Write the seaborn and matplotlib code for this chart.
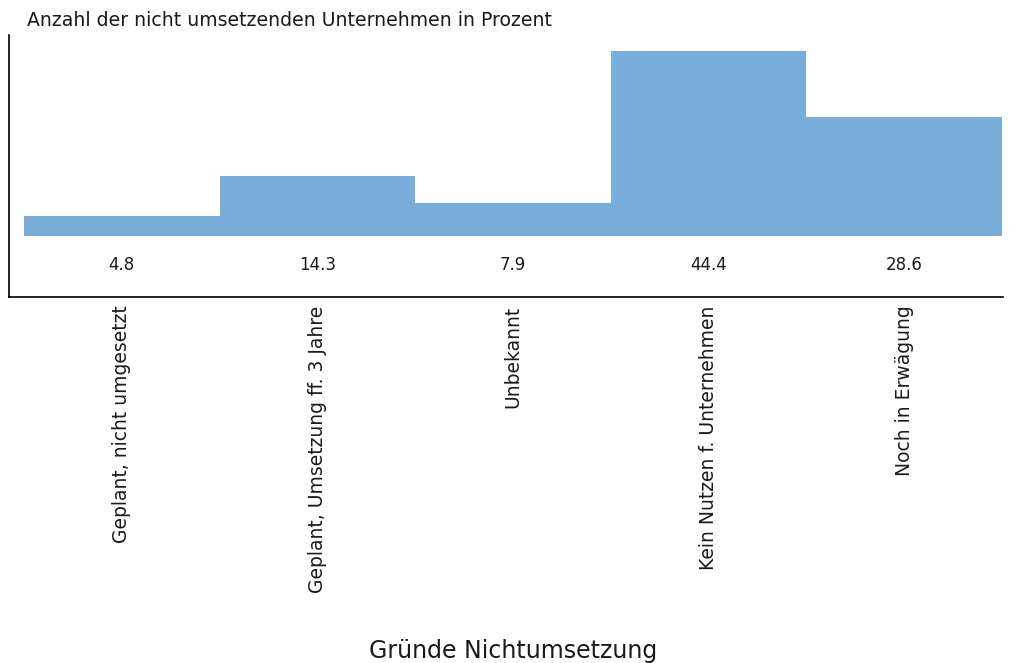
import matplotlib
matplotlib.use("Agg")
import matplotlib.pyplot as plt
import pandas as pd
import seaborn as sns

# Gruende fuer die Nichtumsetzung, Anteil in Prozent
gruende = [
    "Geplant, nicht umgesetzt",
    "Geplant, Umsetzung ff. 3 Jahre",
    "Unbekannt",
    "Kein Nutzen f. Unternehmen",
    "Noch in Erwägung",
]
prozent = [4.8, 14.3, 7.9, 44.4, 28.6]

df = pd.DataFrame({"grund": gruende, "prozent": prozent})

sns.set_theme(style="white")
plt.rcParams["font.family"] = ["DejaVu Sans"]

fig = plt.figure(figsize=(10.09, 6.63), dpi=100)
ax = fig.add_axes([9 / 1009, 1 - 297 / 663, (1003 - 9) / 1009, (297 - 35) / 663])

sns.barplot(data=df, x="grund", y="prozent", color="#79AEDB", saturation=1,
            width=1.0, ax=ax, linewidth=0)

for i, v in enumerate(prozent):
    ax.text(i, -7, f"{v:.1f}", ha="center", va="center", fontsize=12, color="#1a1a1a")

ax.set_xlim(-0.577, 4.505)
ax.set_ylim(-14.7, 48.2)
ax.set_yticks([])
ax.set_xlabel("")
ax.set_ylabel("")
ax.tick_params(axis="x", length=0, pad=6, labelsize=13.5, labelrotation=90, colors="#1a1a1a")
for lab in ax.get_xticklabels():
    lab.set_va("top")
for s in ["top", "right"]:
    ax.spines[s].set_visible(False)
for s in ["left", "bottom"]:
    ax.spines[s].set_color("black")
    ax.spines[s].set_linewidth(1.2)

fig.text(27 / 1009, 1 - 20 / 663, "Anzahl der nicht umsetzenden Unternehmen in Prozent",
         ha="left", va="center", fontsize=13.6, color="#1a1a1a")
fig.text(513 / 1009, 1 - 651 / 663, "Gründe Nichtumsetzung",
         ha="center", va="center", fontsize=17, color="#1a1a1a")

fig.savefig("out.png", dpi=100)
